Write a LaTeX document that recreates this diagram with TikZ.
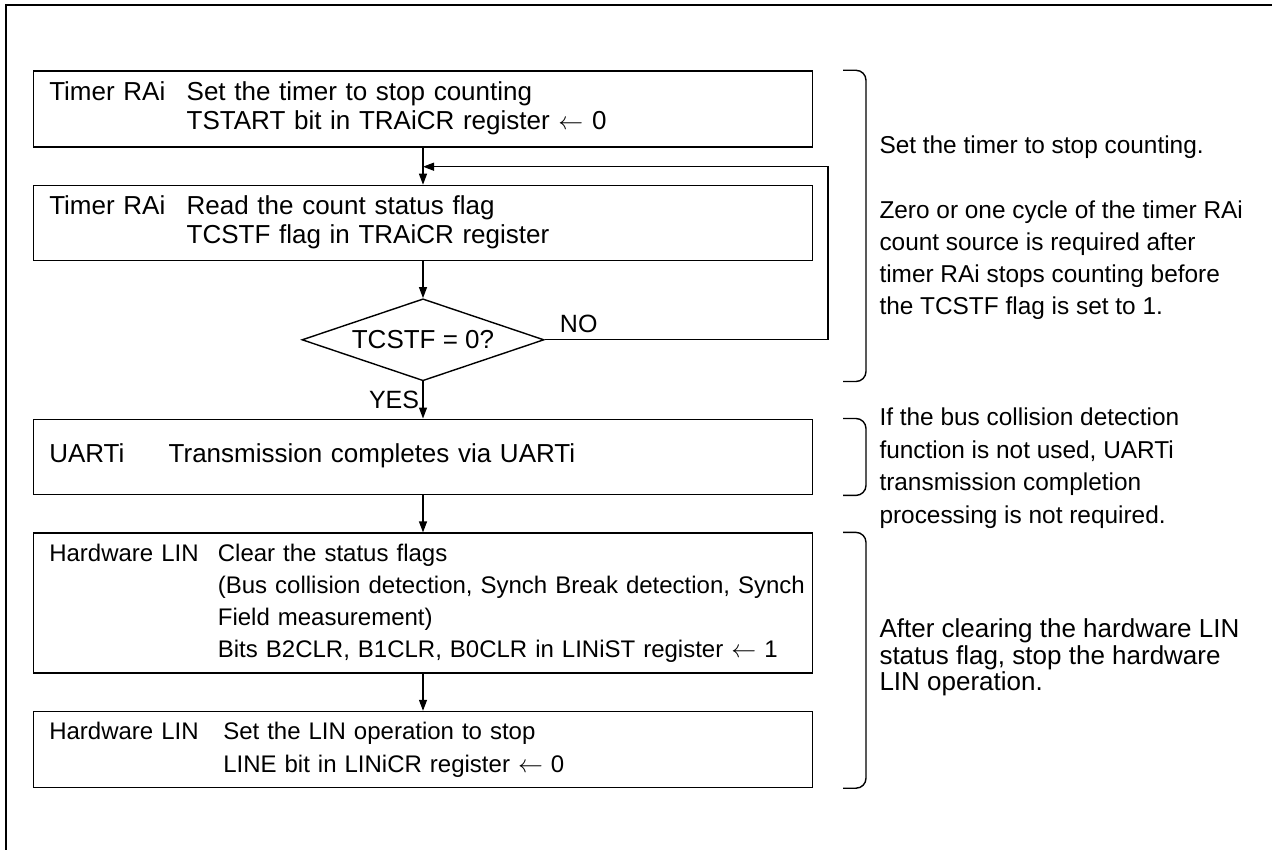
\documentclass[tikz,border=0pt]{standalone}
\usepackage{fontspec}
\setmainfont{Liberation Sans}
\usepackage{tikz}
\usetikzlibrary{shapes.geometric, arrows.meta, positioning}

\begin{document}
\begin{tikzpicture}[
    x=1pt, y=-1pt,
    node distance=37pt,
    every node/.style={font=\fontsize{26}{29.4}\selectfont},
    process/.style={rectangle, draw, line width=1.4pt, text width=747.4pt, inner xsep=16pt, inner ysep=0pt, align=left},
    decision/.style={diamond, draw, line width=1.4pt, aspect=2.95, minimum width=242pt, minimum height=82pt, inner sep=0pt},
    arrow/.style={-{Triangle[length=11pt, width=8pt]}, line width=1.2pt},
    brace/.style={line width=1.4pt, rounded corners=10pt},
    note/.style={anchor=west, align=left, inner sep=0pt, font=\fontsize{24.4}{32}\selectfont},
]
\useasboundingbox (0,0) rectangle (1272,850);

% frame
\draw[line width=2.6pt] (6,850) -- (6,5) -- (1272,5);

\node[process, minimum height=76pt] (stopcnt) at (423,109) {\begin{tabular}{@{}p{137.4pt}@{}l@{}}
    Timer RAi & Set the timer to stop counting\\
              & TSTART bit in TRAiCR register $\leftarrow$ 0
\end{tabular}};
\node[process, minimum height=75pt, below=of stopcnt] (readflag) {\begin{tabular}{@{}p{137.4pt}@{}l@{}}
    Timer RAi & Read the count status flag\\
              & TCSTF flag in TRAiCR register
\end{tabular}};
\node[decision, below=of readflag] (check) {TCSTF = 0?};
\node[process, minimum height=75.5pt, below=of check] (uart) {\begin{tabular}{@{}p{119.4pt}@{}l@{}}
    UARTi & Transmission completes via UARTi
\end{tabular}};
\node[process, minimum height=140pt, below=of uart, font=\fontsize{24}{32.1}\selectfont] (clrflag) {\begin{tabular}{@{}p{168.6pt}@{}l@{}}
    Hardware LIN & Clear the status flags\\
                 & (Bus collision detection, Synch Break detection, Synch\\
                 & Field measurement)\\
                 & Bits B2CLR, B1CLR, B0CLR in LINiST register $\leftarrow$ 1
\end{tabular}};
\node[process, minimum height=76pt, below=of clrflag, font=\fontsize{24}{33}\selectfont] (linstop) {\begin{tabular}{@{}p{174pt}@{}l@{}}
    Hardware LIN & Set the LIN operation to stop\\
                 & LINE bit in LINiCR register $\leftarrow$ 0
\end{tabular}};

\coordinate[below=19pt of stopcnt] (loop);
\coordinate (loopx) at (828,0);

\draw[arrow] (stopcnt) -- (readflag);
\draw[arrow] (readflag) -- (check);
\draw[arrow] (check) -- node[left, font=\fontsize{25}{29}\selectfont] {YES} (uart);
\draw[arrow] (uart) -- (clrflag);
\draw[arrow] (clrflag) -- (linstop);
\draw[arrow] (check.east) -- node[above, pos=0.12, yshift=3pt, font=\fontsize{25}{29}\selectfont] {NO} (check.east -| loopx) |- (loop);

% brackets on the right
\coordinate (brk) at (843,0);
\draw[brace] (stopcnt.north -| brk) -- ++(23,0) |- (check.south -| brk);
\draw[brace] (uart.north -| brk) -- ++(23,0) |- (uart.south -| brk);
\draw[brace] (clrflag.north -| brk) -- ++(23,0) |- (linstop.south -| brk);

\node[note] (stopnote) at (879.3,147) {Set the timer to stop counting.};
\node[note] (cyclenote) at (879.3,260) {Zero or one cycle of the timer RAi\\count source is required after\\timer RAi stops counting before\\the TCSTF flag is set to 1.};
\node[note, font=\fontsize{24.4}{32.5}\selectfont] (busnote) at (879.3,468) {If the bus collision detection\\function is not used, UARTi\\transmission completion\\processing is not required.};
\node[note, font=\fontsize{26}{26.5}\selectfont] (linnote) at (879.3,657.6) {After clearing the hardware LIN\\status flag, stop the hardware\\LIN operation.};

\end{tikzpicture}
\end{document}
